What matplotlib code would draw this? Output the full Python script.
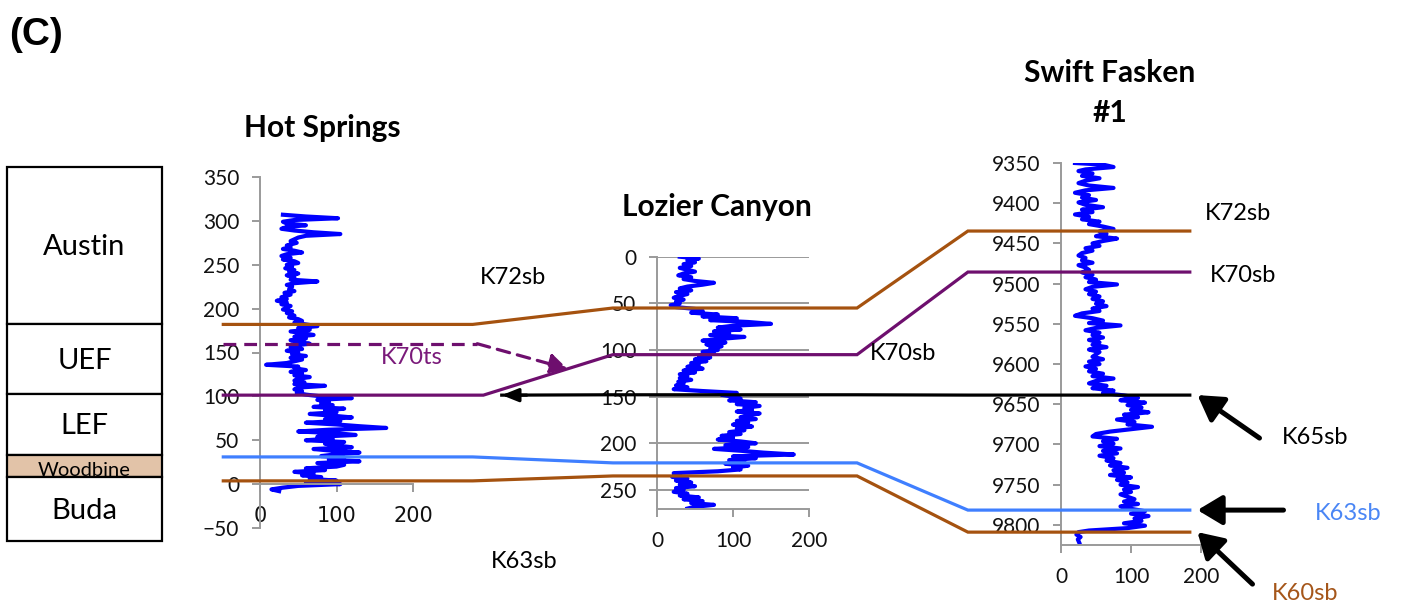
import matplotlib
matplotlib.use("Agg")
import matplotlib.pyplot as plt
from matplotlib import transforms
from matplotlib.patches import FancyArrowPatch
import numpy as np

# --------------------------------------------------
# Data: gamma-ray logs (depth, GR API)
# --------------------------------------------------
hs_depth = [307, 305, 303, 301, 299, 297, 295, 293, 291, 289, 287, 285, 283, 281, 279,
            277, 275, 272, 270, 268, 266, 264, 262, 260, 258, 256, 254, 252, 250, 248,
            246, 244, 242, 240, 238, 236, 233, 231, 229, 227, 225, 222, 220, 218, 216,
            213, 211, 209, 207, 205, 203, 201, 199, 197, 195, 192, 190, 188, 186, 184,
            182, 180, 178, 176, 174, 172, 170, 168, 166, 164, 162, 160, 158, 156, 154,
            152, 150, 148, 146, 144, 142, 140, 138, 136, 134, 132, 130, 128, 126, 124,
            122, 120, 118, 116, 114, 112, 110, 108, 106, 104, 102, 100, 98, 96, 94,
            92, 90, 88, 86, 84, 82, 80, 78, 76, 74, 72, 70, 68, 66, 64,
            62, 60, 58, 56, 54, 52, 50, 48, 46, 44, 42, 40, 38, 36, 34,
            32, 30, 28, 26, 24, 22, 20, 18, 16, 14, 12, 10, 8, 6, 4,
            2, 0, -2, -4, -6, -8]
hs_gr = [30, 60, 102, 45, 30, 35, 60, 35, 28, 45, 70, 105, 60, 50, 45,
         40, 48, 35, 40, 30, 45, 55, 35, 28, 40, 30, 45, 50, 35, 42,
         33, 45, 38, 50, 35, 45, 40, 75, 45, 35, 42, 38, 45, 32, 40,
         28, 35, 22, 35, 28, 40, 35, 30, 42, 35, 45, 38, 50, 55, 45,
         60, 75, 50, 65, 40, 55, 70, 45, 60, 40, 50, 65, 45, 40, 55,
         35, 50, 42, 60, 40, 55, 45, 35, 8, 50, 45, 60, 40, 55, 45,
         65, 50, 45, 58, 45, 85, 50, 45, 55, 48, 60, 80, 120, 75, 90,
         80, 95, 70, 110, 85, 100, 65, 95, 120, 85, 105, 60, 100, 130, 165,
         90, 50, 100, 125, 75, 95, 60, 110, 85, 100, 120, 70, 95, 130, 100,
         80, 110, 90, 130, 75, 110, 100, 60, 85, 45, 70, 55, 80, 65, 100,
         60, 105, 50, 30, 15, 25]

lz_depth = list(range(0, 272, 2))
lz_gr = [30, 55, 40, 50, 35, 45, 30, 40, 50, 35, 28, 45, 35, 50, 75, 60, 40, 30, 45, 25,
         40, 30, 22, 35, 25, 30, 18, 25, 50, 60, 45, 80, 60, 105, 70, 120, 150, 100, 80, 110,
         75, 95, 70, 115, 85, 60, 90, 65, 85, 70, 80, 60, 75, 55, 70, 50, 65, 45, 55, 40,
         60, 35, 50, 30, 40, 30, 45, 28, 35, 25, 40, 22, 60, 105, 85, 100, 110, 95, 130, 105,
         135, 115, 125, 105, 135, 120, 110, 130, 105, 120, 100, 125, 105, 115, 95, 110, 85, 100, 80, 110,
         130, 90, 120, 75, 110, 140, 180, 100, 130, 95, 115, 90, 120, 100, 110, 80, 22, 30, 20, 40,
         25, 45, 30, 50, 25, 35, 22, 40, 30, 55, 35, 60, 45, 75, 50, 40]

sf_depth = [9350, 9352, 9355, 9358, 9360, 9363, 9366, 9369, 9372, 9375, 9378, 9381, 9384, 9387, 9390,
            9393, 9396, 9399, 9402, 9405, 9408, 9411, 9414, 9417, 9420, 9423, 9426, 9429, 9432, 9435,
            9438, 9441, 9444, 9447, 9450, 9453, 9456, 9459, 9462, 9465, 9468, 9471, 9474, 9477, 9480,
            9483, 9486, 9489, 9492, 9495, 9498, 9501, 9504, 9507, 9510, 9513, 9516, 9519, 9522, 9525,
            9528, 9531, 9534, 9537, 9540, 9543, 9546, 9549, 9552, 9555, 9558, 9561, 9564, 9567, 9570,
            9573, 9576, 9579, 9582, 9585, 9588, 9591, 9594, 9597, 9600, 9603, 9606, 9609, 9612, 9615,
            9618, 9621, 9624, 9627, 9630, 9633, 9636, 9639, 9642, 9645, 9648, 9651, 9654, 9657, 9660,
            9663, 9666, 9669, 9672, 9675, 9678, 9681, 9684, 9687, 9690, 9693, 9696, 9699, 9702, 9705,
            9708, 9711, 9714, 9717, 9720, 9723, 9726, 9729, 9732, 9735, 9738, 9741, 9744, 9747, 9750,
            9753, 9756, 9759, 9762, 9765, 9768, 9771, 9774, 9777, 9780, 9783, 9786, 9789, 9792, 9795,
            9798, 9801, 9804, 9807, 9809, 9812, 9815, 9818, 9822]
sf_gr = [20, 60, 75, 35, 25, 45, 30, 55, 35, 25, 40, 75, 35, 20, 40,
         30, 50, 25, 35, 60, 30, 45, 20, 40, 30, 55, 40, 60, 75, 55,
         65, 50, 80, 60, 45, 55, 35, 45, 30, 25, 35, 30, 45, 25, 35,
         40, 30, 45, 35, 50, 40, 80, 45, 35, 50, 40, 55, 45, 60, 50,
         65, 45, 55, 30, 20, 45, 60, 40, 85, 50, 35, 55, 45, 60, 40,
         55, 45, 65, 40, 55, 50, 45, 60, 40, 55, 35, 50, 40, 60, 45,
         75, 50, 40, 65, 45, 75, 60, 90, 110, 85, 120, 95, 115, 100, 125,
         90, 110, 80, 105, 95, 130, 100, 70, 50, 45, 80, 60, 75, 55, 85,
         60, 80, 55, 75, 65, 85, 70, 95, 75, 90, 70, 100, 80, 95, 85,
         110, 90, 100, 85, 95, 105, 90, 110, 85, 100, 120, 100, 125, 105, 115,
         90, 120, 95, 40, 25, 22, 28, 24, 26]

# Stratigraphic column (boundaries in Hot Springs depth units)
units = ["Austin", "UEF", "LEF", "Woodbine", "Buda"]
unit_tops = [361, 182, 102, 33, 8]
unit_bases = [182, 102, 33, 8, -65]

# Surface picks in each well: Hot Springs, Lozier Canyon, Swift Fasken #1
surfaces = ["K72sb", "K70sb", "K65sb", "K63sb", "K60sb"]
pick_hs = [182, 101.4, 101.4, 31, 3.7]
pick_lz = [55, 105, 148, 221, 235]
pick_sf = [9434.6, 9485.6, 9638.6, 9781.6, 9809]
k70ts_hs = 160

# --------------------------------------------------
# Figure and styles
# --------------------------------------------------
W, H = 1401, 614
fig = plt.figure(figsize=(W / 100, H / 100), dpi=100)

BROWN = "#A5520F"
PURPLE = "#6E0F6E"
BLUE_LINE = "#3F7FFF"
LOG_BLUE = "#0000FF"
GRAY = "#9A9A9A"
TICK_FONT = "Lato"
LOG_LW = 3.0
surf_colors = [BROWN, PURPLE, "black", BLUE_LINE, BROWN]


def px_axes(x0, x1, y0, y1):
    # pixel box (top-left origin) -> figure fractions
    return fig.add_axes([x0 / W, 1 - y1 / H, (x1 - x0) / W, (y1 - y0) / H])


def style_well(ax, yticks):
    for side in ["top", "right"]:
        ax.spines[side].set_visible(False)
    for side in ["left", "bottom"]:
        ax.spines[side].set_color(GRAY)
        ax.spines[side].set_linewidth(1.4)
    ax.set_xticks([0, 100, 200])
    ax.set_yticks(yticks)
    ax.tick_params(axis="both", direction="out", color=GRAY, width=1.4, length=6,
                   labelsize=15, labelcolor="#111111")
    ax.tick_params(axis="x", pad=10)
    ax.tick_params(axis="y", pad=9)
    for lab in ax.get_xticklabels() + ax.get_yticklabels():
        lab.set_fontfamily(TICK_FONT)
    ax.patch.set_alpha(0)


# Hot Springs
ax_hs = px_axes(260, 413, 177, 528)
ax_hs.plot(hs_gr, hs_depth, color=LOG_BLUE, lw=LOG_LW, solid_joinstyle="round")
ax_hs.set_xlim(0, 200)
ax_hs.set_ylim(-50, 350)
style_well(ax_hs, range(-50, 351, 50))
ax_hs.spines["bottom"].set_position(("data", 0))

# Lozier Canyon
ax_lz = px_axes(657, 809, 256.7, 508.6)
ax_lz.plot(lz_gr, lz_depth, color=LOG_BLUE, lw=LOG_LW, solid_joinstyle="round")
ax_lz.set_xlim(0, 200)
ax_lz.set_ylim(270, 0)
style_well(ax_lz, range(0, 251, 50))
ax_lz.grid(axis="y", color=GRAY, lw=1.4)
ax_lz.set_axisbelow(True)

# Swift Fasken #1
ax_sf = px_axes(1061, 1201, 163, 545)
ax_sf.plot(sf_gr, sf_depth, color=LOG_BLUE, lw=LOG_LW, solid_joinstyle="round")
ax_sf.set_xlim(0, 200)
ax_sf.set_ylim(9825, 9350)
style_well(ax_sf, range(9350, 9801, 50))

# Stratigraphic column
ax_col = px_axes(7, 162, 167, 541)
ax_col.set_xlim(0, 1)
ax_col.set_ylim(-65, 361)
ax_col.axis("off")
for name, top, base in zip(units, unit_tops, unit_bases):
    fc = "#E2C3A8" if name == "Woodbine" else "white"
    bar = ax_col.bar(0.5, top - base, bottom=base, width=1, facecolor=fc,
                     edgecolor="black", lw=1.6, clip_on=False)[0]
    if name == "Woodbine":
        t = ax_col.text(0.5, base + 1, name, ha="center", va="baseline",
                        fontsize=14.5, family=TICK_FONT)
        t.set_clip_path(bar)
    else:
        ax_col.text(0.5, (top + base) / 2 - 2, name, ha="center", va="center",
                    fontsize=21, family=TICK_FONT)

# --------------------------------------------------
# Overlay for correlation lines and labels (pixel coords)
# --------------------------------------------------
ax_ov = fig.add_axes([0, 0, 1, 1], zorder=10)
ax_ov.set_xlim(0, W)
ax_ov.set_ylim(H, 0)
ax_ov.axis("off")
ax_ov.patch.set_alpha(0)
to_ov = ax_ov.transData.inverted()


def pt(ax, xfrac, depth):
    tr = transforms.blended_transform_factory(ax.transAxes, ax.transData)
    return to_ov.transform(tr.transform((xfrac, depth)))


HS_L, HS_R = -0.24, 1.39
LZ_L, LZ_R = -0.29, 1.316
SF_L, SF_R = -0.665, 0.92

for i, name in enumerate(surfaces):
    hs_l, hs_r = HS_L, HS_R
    if name == "K70sb":
        hs_r = 1.46
    if name == "K65sb":
        hs_l = hs_r = 1.58
    pts = [pt(ax_hs, hs_l, pick_hs[i]), pt(ax_hs, hs_r, pick_hs[i]),
           pt(ax_lz, LZ_L, pick_lz[i]), pt(ax_lz, LZ_R, pick_lz[i]),
           pt(ax_sf, SF_L, pick_sf[i]), pt(ax_sf, SF_R, pick_sf[i])]
    if name == "K65sb":
        pts = pts[1:]
    pts = np.array(pts)
    ax_ov.plot(pts[:, 0], pts[:, 1], color=surf_colors[i], lw=2.3,
               solid_joinstyle="miter")
    if name == "K70sb":
        k70_slope = (pts[1], pts[2])
    if name == "K65sb":
        k65_tip = pts[0]

# K70ts dashed, ends with arrow on the K70sb ramp
p0 = pt(ax_hs, HS_L, k70ts_hs)
p1 = pt(ax_hs, 1.42, k70ts_hs)
tip = k70_slope[0] + 0.65 * (k70_slope[1] - k70_slope[0])
ax_ov.plot([p0[0], p1[0]], [p0[1], p1[1]], color=PURPLE, lw=2.3, ls=(0, (4, 2.5)))
ax_ov.add_patch(FancyArrowPatch(p1, tip, arrowstyle="-|>,head_length=0.55,head_width=0.3",
                                mutation_scale=20, color=PURPLE, lw=2.3,
                                linestyle=(0, (4, 2.5)), shrinkA=0, shrinkB=0))

# arrowhead at the west end of K65sb
ax_ov.add_patch(FancyArrowPatch(k65_tip + np.array([25, 0]), k65_tip,
                                arrowstyle="-|>,head_length=0.5,head_width=0.2",
                                mutation_scale=20, color="black", lw=2.3,
                                shrinkA=0, shrinkB=0))

# pointer arrows on the right
for i, dx, dy in [(2, 62, 43), (3, 86, 0), (4, 55, 52)]:
    tip_r = pt(ax_sf, 0.975, pick_sf[i])
    ax_ov.add_patch(FancyArrowPatch(tip_r + np.array([dx, dy]), tip_r,
                                    arrowstyle="-|>,head_length=0.75,head_width=0.45",
                                    mutation_scale=20, color="black", lw=3.6,
                                    shrinkA=0, shrinkB=0))

# --------------------------------------------------
# Text
# --------------------------------------------------
ax_ov.text(9, 35, "(C)", fontsize=28, fontweight="bold", family="Liberation Sans",
           va="center", ha="left")
for x, y, s in [(322, 128, "Hot Springs"), (717, 207, "Lozier Canyon"),
                (1110, 73, "Swift Fasken"), (1110, 113, "#1")]:
    ax_ov.text(x, y, s, fontsize=21.5, fontweight="bold", family=TICK_FONT,
               ha="center", va="center")

labels = [(513, 278, "K72sb", "black"), (412, 357, "K70ts", "#7A1A7A"),
          (903, 353, "K70sb", "black"), (1238, 213, "K72sb", "black"),
          (1243, 276, "K70sb", "black"), (1315, 438, "K65sb", "black"),
          (1348, 513, "K63sb", "#4A86F5"), (1305, 594, "K60sb", "#A5561A"),
          (524, 561, "K63sb", "black")]
for x, y, s, c in labels:
    ax_ov.text(x, y, s, fontsize=17, color=c, family=TICK_FONT,
               ha="center", va="center")

fig.savefig("out.png", dpi=100)
plt.close(fig)
